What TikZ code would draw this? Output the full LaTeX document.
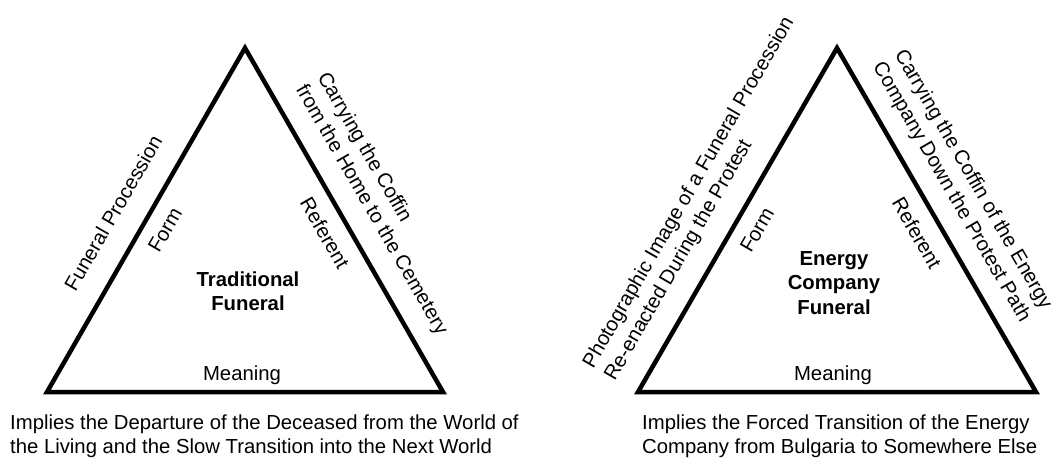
\documentclass[tikz,border=0pt]{standalone}
\usepackage{fontspec}
\setmainfont{Liberation Sans}
\begin{document}
\begin{tikzpicture}[x=1pt,y=-1pt,
  tri/.style={line width=4.5pt, line join=miter},
  lbl/.style={inner sep=0pt, font=\fontsize{20.3}{25}\selectfont},
  title/.style={lbl, align=center, font=\fontsize{20.3}{24.5}\selectfont\bfseries},
  upleft/.style={lbl, rotate=60},
  downright/.style={lbl, rotate=-60},
  note/.style={lbl, align=left, anchor=north west, font=\fontsize{20.3}{24.5}\selectfont}]
\useasboundingbox (0,0) rectangle (1057,459);

% Traditional funeral triangle
\coordinate (LA) at (245,48);
\coordinate (LB) at (47,392);
\coordinate (LC) at (443,392);
\draw[tri] (LA) -- (LB) -- (LC) -- cycle;

\node[lbl] (lmeaning) at (242,375) {Meaning};
\node[title] (ltitle) at (248,291) {Traditional\\Funeral};
\node[upleft] (lform) at (165,230) {Form};
\node[upleft] (lproc) at (113,213) {Funeral Procession};
\node[downright] (lref) at (325,233) {Referent};
\node[downright, align=left] (lcarry) at (382,204)
  {Carrying the Coffin\\from the Home to the Cemetery};
\node[note] (limplies) at (10,414.5)
  {Implies the Departure of the Deceased from the World of\\the Living and the Slow Transition into the Next World};

% Energy company funeral triangle
\coordinate (RA) at (837,48);
\coordinate (RB) at (638,392);
\coordinate (RC) at (1036,392);
\draw[tri] (RA) -- (RB) -- (RC) -- cycle;

\node[lbl] (rmeaning) at (833,375) {Meaning};
\node[title] (rtitle) at (834,283) {Energy\\Company\\Funeral};
\node[upleft] (rform) at (757,230) {Form};
\node[upleft, align=left] (rphoto) at (700,199)
  {Photographic Image of a Funeral Procession\\Re-enacted During the Protest};
\node[downright] (rref) at (917,233) {Referent};
\node[downright, align=left] (rcarry) at (962,186)
  {Carrying the Coffin of the Energy\\Company Down the Protest Path};
\node[note] (rimplies) at (642,414.5)
  {Implies the Forced Transition of the Energy\\Company from Bulgaria to Somewhere Else};
\end{tikzpicture}
\end{document}
